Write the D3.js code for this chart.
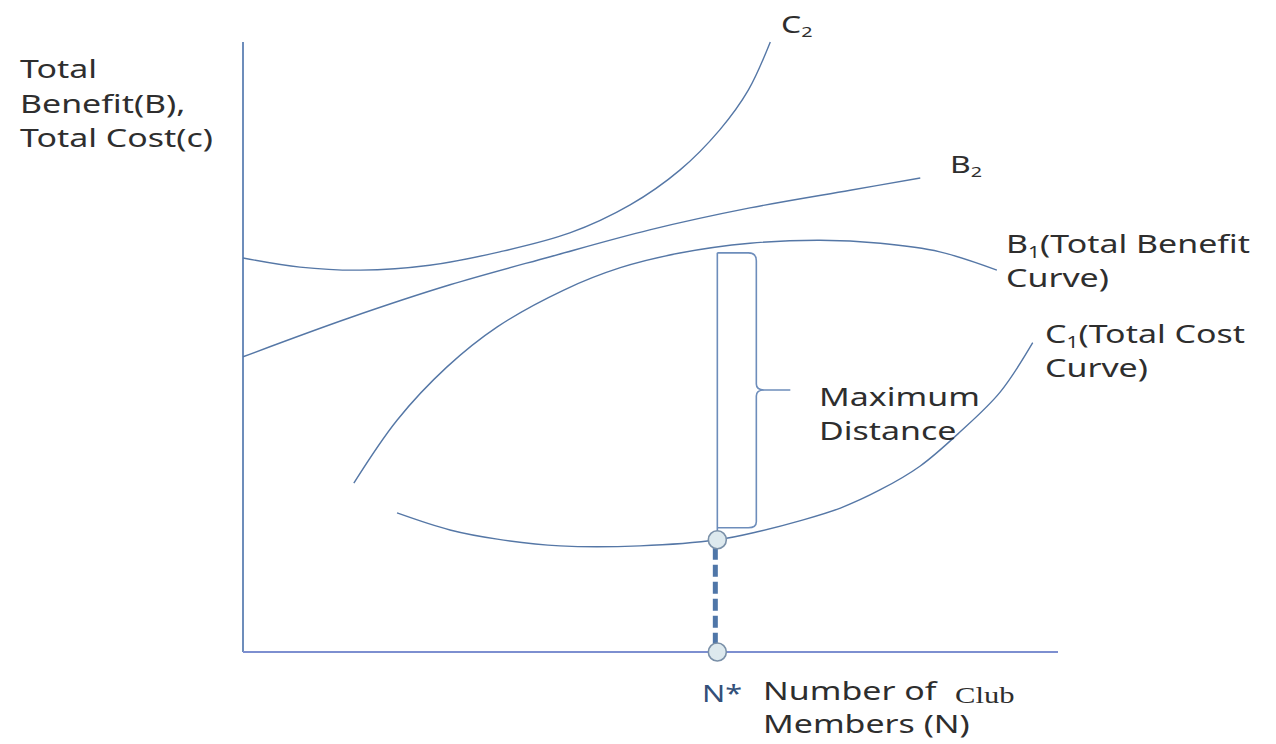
<!DOCTYPE html>
<html>
<head>
<meta charset="utf-8">
<script src="https://cdn.jsdelivr.net/npm/d3@7"></script>
<style>
  body { margin: 0; background: #fff; }
  text { font-family: "Noto Sans", "Open Sans", sans-serif; fill: #2e2e2e; }
</style>
</head>
<body>
<div id="chart"></div>
<script>
// curves in chart units: x = number of members (0..100), y = benefit / cost (0..100)
const c2X = [0, 7.0, 14.4, 22.9, 31.5, 40.1, 47.5, 53.6, 58.5, 62.0, 64.7];
const c2Y = [64.6, 63.1, 62.6, 63.4, 65.6, 68.7, 73.3, 79.0, 85.6, 92.1, 100];

const b2X = [0, 13.1, 25.4, 37.7, 49.9, 62.2, 74.5, 83.1];
const b2Y = [48.4, 54.8, 60.2, 64.8, 69.2, 72.8, 75.7, 77.7];

const b1X = [13.6, 18.9, 25.0, 31.2, 39.3, 46.3, 53.6, 62.2, 70.8, 78.2, 85.5, 92.5];
const b1Y = [27.7, 38.0, 46.7, 53.3, 59.3, 63.0, 65.4, 67.0, 67.5, 67.0, 65.6, 62.6];

const c1X = [18.9, 25.4, 31.2, 38.9, 48.7, 58.2, 63.4, 68.3, 73.3, 78.2, 83.1, 88.0, 92.9, 96.9];
const c1Y = [22.8, 20.0, 18.5, 17.4, 17.4, 18.4, 19.8, 21.5, 23.6, 26.6, 30.5, 36.1, 42.6, 50.7];

const nStar = 58.2;          // optimal membership
const b1AtN = 65.6;          // benefit at N*
const c1AtN = 18.4;          // cost at N*

const zip = (xs, ys) => xs.map((d, i) => [d, ys[i]]);

const width = 1276, height = 744;
const svg = d3.select("#chart").append("svg")
    .attr("width", width).attr("height", height);

const x = d3.scaleLinear().domain([0, 100]).range([243, 1058]);
const y = d3.scaleLinear().domain([0, 100]).range([652, 42]);

const line = d3.line()
    .x(d => x(d[0]))
    .y(d => y(d[1]))
    .curve(d3.curveCatmullRom.alpha(0.5));

const curveColor = "#5577a6";

// axes
svg.append("line")
    .attr("x1", x(0)).attr("x2", x(0))
    .attr("y1", y(100)).attr("y2", y(0))
    .attr("stroke", "#6d8dbb").attr("stroke-width", 2);
svg.append("line")
    .attr("x1", x(0)).attr("x2", x(100))
    .attr("y1", y(0)).attr("y2", y(0))
    .attr("stroke", "#7d8fd0").attr("stroke-width", 2);

// curves
[zip(c2X, c2Y), zip(b2X, b2Y), zip(b1X, b1Y), zip(c1X, c1Y)].forEach(pts => {
    svg.append("path")
        .attr("d", line(pts))
        .attr("fill", "none")
        .attr("stroke", curveColor)
        .attr("stroke-width", 1.4);
});

// vertical line from cost to benefit at N*
const xn = x(nStar);
svg.append("line")
    .attr("x1", xn).attr("x2", xn)
    .attr("y1", y(b1AtN) + 1).attr("y2", y(c1AtN))
    .attr("stroke", "#6d8dbb").attr("stroke-width", 1.6);

// brace
const braceTop = y(b1AtN) + 1, braceBot = y(c1AtN) - 12, braceMid = 390;
const bx = xn + 39;
const brace = d3.path();
brace.moveTo(xn, braceTop);
brace.lineTo(bx - 8, braceTop);
brace.quadraticCurveTo(bx, braceTop, bx, braceTop + 8);
brace.lineTo(bx, braceMid - 6);
brace.quadraticCurveTo(bx, braceMid, bx + 8, braceMid);
brace.lineTo(bx + 34, braceMid);
brace.moveTo(bx + 8, braceMid);
brace.quadraticCurveTo(bx, braceMid, bx, braceMid + 6);
brace.lineTo(bx, braceBot - 6);
brace.quadraticCurveTo(bx, braceBot, bx - 8, braceBot);
brace.lineTo(xn, braceBot);
svg.append("path")
    .attr("d", brace.toString())
    .attr("fill", "none")
    .attr("stroke", "#6d8dbb")
    .attr("stroke-width", 1.6);

// dashed drop line
svg.append("line")
    .attr("x1", xn - 2).attr("x2", xn - 2)
    .attr("y1", y(c1AtN) + 8).attr("y2", y(0) - 8)
    .attr("stroke", "#4f76a8").attr("stroke-width", 5)
    .attr("stroke-dasharray", "12,5");

// circles
[c1AtN, 0].forEach(v => {
    svg.append("circle")
        .attr("cx", xn).attr("cy", y(v)).attr("r", 9)
        .attr("fill", "#dde9ee")
        .attr("stroke", "#7a90a8").attr("stroke-width", 1.6);
});

// labels (the original font is wide, so stretch horizontally)
const fs = 25.5, sx = 1.33;
function label(tx, ty, txt, size) {
    return svg.append("text")
        .attr("transform", `translate(${tx},${ty}) scale(${sx},1)`)
        .attr("font-size", size || fs).text(txt);
}
function subLabel(tx, ty, main, sub, rest, size) {
    const s = size || fs;
    const t = svg.append("text")
        .attr("transform", `translate(${tx},${ty}) scale(${sx},1)`)
        .attr("font-size", s);
    t.append("tspan").text(main);
    t.append("tspan").attr("font-size", s * 0.62).attr("dy", s * 0.18).text(sub);
    if (rest) t.append("tspan").attr("dy", -s * 0.18).text(rest);
    return t;
}

label(20, 78, "Total");
label(20, 113, "Benefit(B),");
label(20, 147, "Total  Cost(c)");

subLabel(781, 33, "C", "2", null, 24);
subLabel(950, 173, "B", "2", null, 24);

subLabel(1006, 253, "B", "1", "(Total Benefit");
label(1006, 287, "Curve)");

subLabel(1045, 343, "C", "1", "(Total Cost");
label(1045, 377, "Curve)");

label(819, 406, "Maximum");
label(819, 440, "Distance");

label(702, 702, "N*", 23).style("fill", "#34507a");
label(763, 700, "Number of");
svg.append("text")
    .attr("transform", `translate(955,703) scale(${sx},1)`)
    .attr("font-size", 23)
    .style("font-family", "'Liberation Serif', 'DejaVu Serif', serif")
    .text("Club");
label(763, 733, "Members  (N)");
</script>
</body>
</html>
